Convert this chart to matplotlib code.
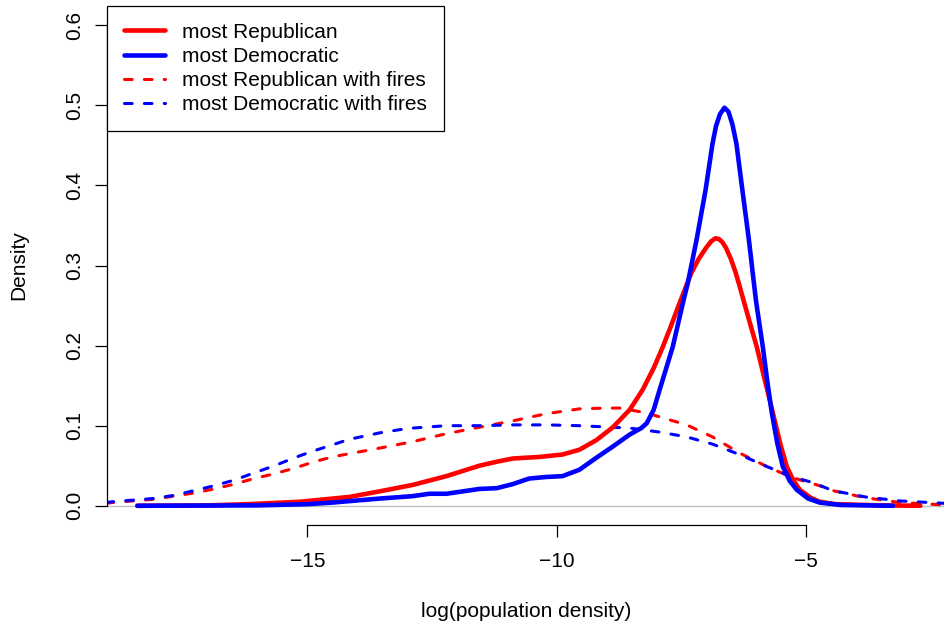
import matplotlib
matplotlib.use("Agg")
import matplotlib.pyplot as plt

plt.rcParams['font.family'] = ['Liberation Sans', 'DejaVu Sans']

# density curves of log(population density), read at a handful of x positions
rep_x = [-18.41, -17.0, -16.2, -15.16, -14.16, -13.55, -12.89, -12.21, -11.55,
         -11.2, -10.88, -10.34, -9.88, -9.54, -9.2, -8.87, -8.53, -8.27, -8.05,
         -7.87, -7.7, -7.55, -7.4, -7.3, -7.15, -7.0, -6.9, -6.81, -6.74, -6.67,
         -6.6, -6.5, -6.41, -6.33, -6.2, -6.1, -5.98, -5.82, -5.66, -5.5, -5.38,
         -5.25, -5.12, -4.9, -4.72, -4.4, -3.5, -2.7]
rep_y = [0.0, 0.0005, 0.002, 0.005, 0.011, 0.018, 0.026, 0.037, 0.050,
         0.055, 0.059, 0.061, 0.064, 0.070, 0.082, 0.098, 0.120, 0.145, 0.172,
         0.198, 0.225, 0.250, 0.274, 0.290, 0.308, 0.322, 0.330, 0.334, 0.333, 0.329,
         0.322, 0.308, 0.292, 0.275, 0.246, 0.224, 0.198, 0.157, 0.116, 0.075, 0.049,
         0.032, 0.020, 0.010, 0.005, 0.002, 0.0005, 0.0]

dem_x = [-18.41, -16.0, -15.0, -14.5, -13.55, -12.89, -12.55, -12.21, -11.88,
         -11.55, -11.2, -10.88, -10.55, -10.2, -9.88, -9.54, -9.2, -8.87, -8.53,
         -8.3, -8.19, -8.05, -7.93, -7.67, -7.45, -7.37, -7.19, -7.01, -6.87,
         -6.8, -6.72, -6.63, -6.55, -6.47, -6.39, -6.27, -6.14, -6.0, -5.86,
         -5.77, -5.68, -5.57, -5.46, -5.32, -5.18, -4.95, -4.72, -4.3, -3.25]
dem_y = [0.0, 0.0005, 0.002, 0.004, 0.009, 0.012, 0.015, 0.015, 0.018,
         0.021, 0.022, 0.027, 0.034, 0.036, 0.037, 0.045, 0.060, 0.074, 0.089,
         0.097, 0.103, 0.120, 0.145, 0.198, 0.257, 0.277, 0.332, 0.394, 0.452,
         0.474, 0.489, 0.497, 0.492, 0.476, 0.452, 0.394, 0.332, 0.257, 0.198,
         0.155, 0.116, 0.078, 0.049, 0.031, 0.020, 0.009, 0.004, 0.001, 0.0]

rep_fire_x = [-19.04, -18.92, -18.11, -17.27, -16.87, -16.47, -16.07, -15.66,
              -15.26, -14.86, -14.5, -14.16, -13.55, -12.89, -12.21, -11.55, -10.88,
              -10.2, -9.54, -9.0, -8.73, -8.2, -7.93, -7.39, -6.87, -6.33, -5.78,
              -5.26, -4.72, -4.46, -3.8, -3.1, -2.2]
rep_fire_y = [0.003, 0.004, 0.008, 0.016, 0.021, 0.027, 0.034, 0.040,
              0.047, 0.055, 0.061, 0.065, 0.072, 0.080, 0.090, 0.098, 0.106,
              0.115, 0.121, 0.122, 0.122, 0.116, 0.111, 0.101, 0.086, 0.066, 0.049,
              0.035, 0.025, 0.019, 0.010, 0.004, 0.001]

dem_fire_x = [-19.04, -18.92, -18.51, -18.11, -17.67, -17.27, -16.87, -16.47,
              -16.07, -15.66, -15.26, -14.9, -14.5, -14.16, -13.55, -13.15, -12.89,
              -12.21, -11.55, -10.88, -10.2, -9.54, -8.87, -8.53, -7.93, -7.39,
              -6.87, -6.33, -5.78, -5.26, -4.86, -4.46, -3.8, -3.1, -2.2]
dem_fire_y = [0.004, 0.005, 0.007, 0.009, 0.013, 0.019, 0.025, 0.032,
              0.041, 0.050, 0.060, 0.068, 0.076, 0.083, 0.091, 0.095, 0.097,
              0.100, 0.100, 0.101, 0.101, 0.100, 0.098, 0.097, 0.092, 0.086,
              0.077, 0.064, 0.049, 0.036, 0.029, 0.019, 0.011, 0.006, 0.003]

x_ticks = [-15, -10, -5]
y_ticks = [0.0, 0.1, 0.2, 0.3, 0.4, 0.5, 0.6]
fs = 15

fig = plt.figure(figsize=(9.45, 6.27), dpi=100)
ax = fig.add_axes([107 / 945, 102 / 627, 838 / 945, 519 / 627])

ax.axhline(0, color='#BEBEBE', lw=1.0, zorder=1)
ax.plot(rep_x, rep_y, color='#FF0000', lw=3.3, label='most Republican',
        solid_capstyle='round', zorder=3)
ax.plot(dem_x, dem_y, color='#0000FF', lw=3.3, label='most Democratic',
        solid_capstyle='round', zorder=3)
ax.plot(rep_fire_x, rep_fire_y, color='#FF0000', lw=2.2, dashes=(2.5, 4),
        dash_capstyle='round', label='most Republican with fires', zorder=2)
ax.plot(dem_fire_x, dem_fire_y, color='#0000FF', lw=2.2, dashes=(2.5, 4),
        dash_capstyle='round', label='most Democratic with fires', zorder=2)

ax.set_xlim(-19.02, -2.205)
ax.set_ylim(-0.024, 0.624)

# R-style axes: lines only span the tick range
for side in ['top', 'right']:
    ax.spines[side].set_visible(False)
ax.spines['left'].set_bounds(0, 0.6)
ax.spines['bottom'].set_bounds(-15, -5)
ax.spines['left'].set_linewidth(0.9)
ax.spines['bottom'].set_linewidth(0.9)

ax.set_xticks(x_ticks)
ax.set_xticklabels(['\u221215', '\u221210', '\u22125'])
ax.set_yticks(y_ticks)
ax.set_yticklabels(['%.1f' % v for v in y_ticks])
ax.tick_params(axis='both', length=8.6, width=0.9, labelsize=fs)
ax.tick_params(axis='x', pad=11)
ax.tick_params(axis='y', pad=8, labelrotation=90)
for lab in ax.get_yticklabels():
    lab.set_va('center')

ax.set_xlabel('log(population density)', fontsize=fs)
ax.xaxis.set_label_coords(0.5, -0.148)
ax.set_ylabel('Density', fontsize=fs)
ax.yaxis.set_label_coords(-0.094, 0.5)

leg = ax.legend(loc='upper left', bbox_to_anchor=(0, 1), borderaxespad=0,
                fontsize=fs, fancybox=False, framealpha=1, edgecolor='black',
                handlelength=2.0, handletextpad=0.8, labelspacing=0.25,
                borderpad=0.8)
leg.get_frame().set_linewidth(0.9)

fig.savefig('out.png', dpi=100)
